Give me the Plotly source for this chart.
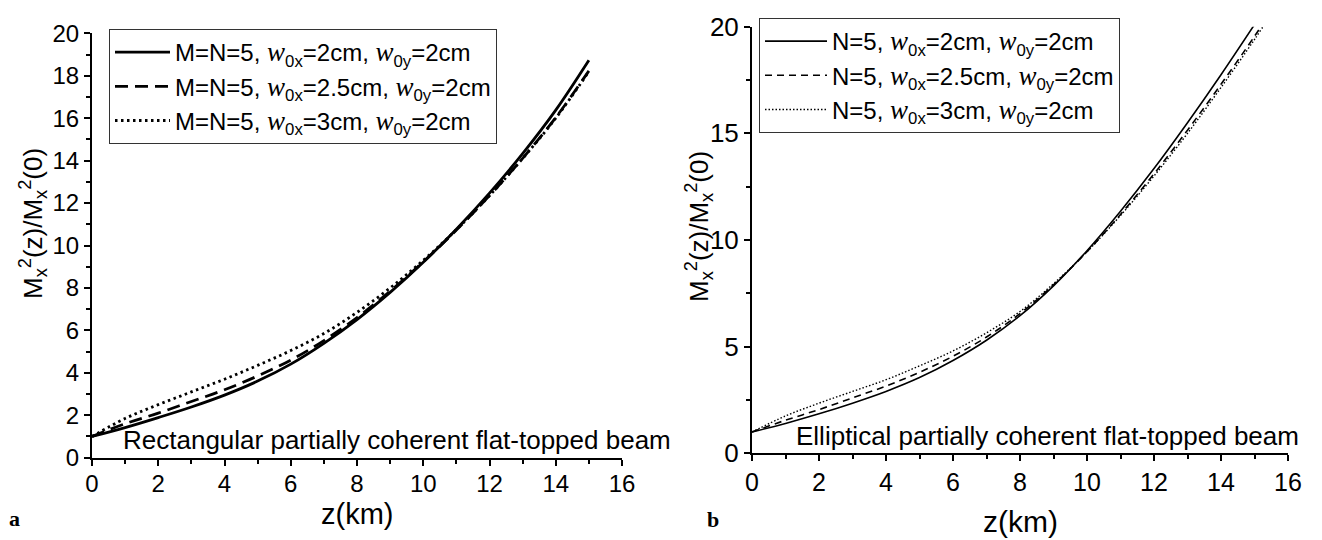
import plotly.graph_objects as go

# ---------------- data ----------------
z_a = [0, 1, 2, 3, 4, 5, 6, 7, 8, 9, 10, 11, 12, 13, 14, 15]
a_w2 = [1.0, 1.42, 1.89, 2.39, 2.95, 3.61, 4.41, 5.39, 6.51, 7.79, 9.21, 10.77, 12.47, 14.33, 16.38, 18.73]
a_w25 = [1.0, 1.6, 2.1, 2.65, 3.2, 3.85, 4.6, 5.52, 6.6, 7.85, 9.23, 10.73, 12.35, 14.11, 16.03, 18.23]
a_w3 = [1.0, 1.85, 2.5, 3.1, 3.7, 4.35, 5.05, 5.85, 6.85, 8.0, 9.3, 10.75, 12.35, 14.1, 16.0, 18.2]

z_b = [0, 1, 2, 3, 4, 5, 6, 7, 8, 9, 10, 11, 12, 13, 14, 15, 15.5]
b_w2 = [1.0, 1.4, 1.85, 2.35, 2.9, 3.55, 4.35, 5.3, 6.45, 7.85, 9.5, 11.35, 13.35, 15.5, 17.75, 20.1, 21.3]
b_w25 = [1.0, 1.55, 2.05, 2.6, 3.15, 3.8, 4.55, 5.45, 6.55, 7.9, 9.45, 11.2, 13.1, 15.15, 17.3, 19.55, 20.75]
b_w3 = [1.0, 1.75, 2.35, 2.9, 3.45, 4.1, 4.8, 5.65, 6.65, 7.95, 9.45, 11.15, 13.0, 15.0, 17.15, 19.4, 20.6]

W = "<i><span style='font-family:Liberation Serif;font-size:27px'>w</span></i>"
labels_a = [
    f"M=N=5, {W}<sub>0x</sub>=2cm, {W}<sub>0y</sub>=2cm",
    f"M=N=5, {W}<sub>0x</sub>=2.5cm, {W}<sub>0y</sub>=2cm",
    f"M=N=5, {W}<sub>0x</sub>=3cm, {W}<sub>0y</sub>=2cm",
]
labels_b = [
    f"N=5, {W}<sub>0x</sub>=2cm, {W}<sub>0y</sub>=2cm",
    f"N=5, {W}<sub>0x</sub>=2.5cm, {W}<sub>0y</sub>=2cm",
    f"N=5, {W}<sub>0x</sub>=3cm, {W}<sub>0y</sub>=2cm",
]

x_ticks = [0, 2, 4, 6, 8, 10, 12, 14, 16]

FONT = "Liberation Sans, Arial, sans-serif"

fig = go.Figure()

styles_a = [dict(dash="solid", width=2.8), dict(dash="13px,7px", width=2.8), dict(dash="2.5px,3.5px", width=2.8)]
for ys, lab, st in zip([a_w2, a_w25, a_w3], labels_a, styles_a):
    fig.add_trace(go.Scatter(x=z_a, y=ys, mode="lines", name=lab,
                             line=dict(color="black", shape="spline", **st),
                             xaxis="x", yaxis="y", legend="legend"))

styles_b = [dict(dash="solid", width=1.6), dict(dash="7px,5px", width=1.6), dict(dash="1.5px,2px", width=1.4)]
for ys, lab, st in zip([b_w2, b_w25, b_w3], labels_b, styles_b):
    fig.add_trace(go.Scatter(x=z_b, y=ys, mode="lines", name=lab,
                             line=dict(color="black", shape="spline", **st),
                             xaxis="x2", yaxis="y2", legend="legend2"))

W_PX, H_PX = 1322, 540


def px_x(p):
    return p / W_PX


def px_y(p):
    return 1 - p / H_PX


axis_common = dict(showline=True, linecolor="black", linewidth=2, ticks="outside",
                   ticklen=6, tickwidth=2, tickcolor="black", showgrid=False,
                   zeroline=False, automargin=False, mirror=False)
minor_style = dict(ticks="outside", ticklen=4, tickwidth=2, tickcolor="black")

fig.update_layout(
    width=W_PX, height=H_PX,
    margin=dict(l=0, r=0, t=0, b=0),
    paper_bgcolor="white", plot_bgcolor="white",
    font=dict(family=FONT, color="black"),
    xaxis=dict(domain=[px_x(92), px_x(622)], range=[0, 16], tickvals=x_ticks, anchor="y",
               ticklabelstandoff=-3,
               minor=dict(dtick=1, **minor_style), tickfont=dict(size=24), **axis_common),
    yaxis=dict(domain=[px_y(457.7), px_y(33.3)], range=[0, 20], dtick=2, anchor="x",
               minor=dict(dtick=1, **minor_style), tickfont=dict(size=24), **axis_common),
    xaxis2=dict(domain=[px_x(752), px_x(1288)], range=[0, 16], tickvals=x_ticks, anchor="y2",
                minor=dict(dtick=1, **minor_style), tickfont=dict(size=25), **axis_common),
    yaxis2=dict(domain=[px_y(453.3), px_y(26.7)], range=[0, 20], dtick=5, anchor="x2",
                minor=dict(dtick=2.5, **minor_style), tickfont=dict(size=26), **axis_common),
    legend=dict(x=px_x(109), y=px_y(29), xanchor="left", yanchor="top",
                bgcolor="white", bordercolor="#333333", borderwidth=1,
                font=dict(size=24, family=FONT), itemwidth=55, tracegroupgap=0),
    legend2=dict(x=px_x(759), y=px_y(18), xanchor="left", yanchor="top",
                 bgcolor="white", bordercolor="#333333", borderwidth=1,
                 font=dict(size=24, family=FONT), itemwidth=62, tracegroupgap=0),
    showlegend=True,
)

ann = [
    dict(text="z(km)", x=px_x(357), y=px_y(514), font=dict(size=29)),
    dict(text="z(km)", x=px_x(1020), y=px_y(521), font=dict(size=30)),
    dict(text="M<sub>x</sub><sup>2</sup>(z)/M<sub>x</sub><sup>2</sup>(0)", x=px_x(33), y=px_y(224),
         textangle=-90, font=dict(size=26)),
    dict(text="M<sub>x</sub><sup>2</sup>(z)/M<sub>x</sub><sup>2</sup>(0)", x=px_x(699), y=px_y(226),
         textangle=-90, font=dict(size=26)),
    dict(text="Rectangular partially coherent flat-topped beam", x=px_x(121), y=px_y(440),
         xanchor="left", font=dict(size=26)),
    dict(text="Elliptical partially coherent flat-topped beam", x=px_x(794), y=px_y(436),
         xanchor="left", font=dict(size=26)),
    dict(text="<b>a</b>", x=px_x(14), y=px_y(518), font=dict(size=22, family="Liberation Serif, serif")),
    dict(text="<b>b</b>", x=px_x(713), y=px_y(519), font=dict(size=22, family="Liberation Serif, serif")),
]
for a in ann:
    base = dict(xref="paper", yref="paper", showarrow=False, xanchor="center", yanchor="middle")
    base.update(a)
    if "family" not in base["font"]:
        base["font"] = dict(base["font"], family=FONT)
    base["font"]["color"] = "black"
    fig.add_annotation(**base)

fig.write_html("out.html")
